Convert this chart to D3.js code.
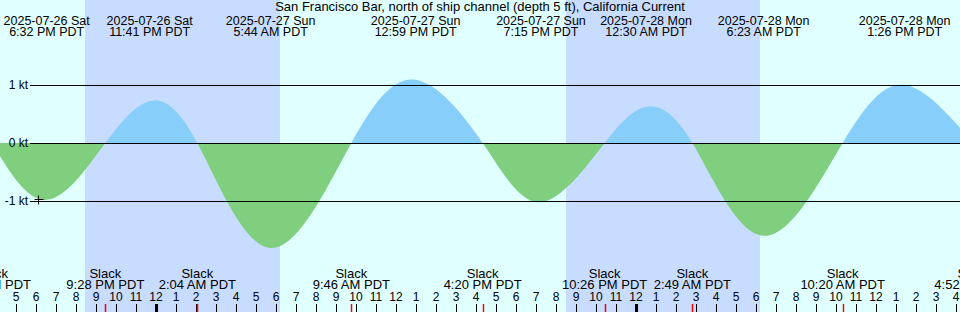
<!DOCTYPE html>
<html>
<head>
<meta charset="utf-8">
<script src="https://cdn.jsdelivr.net/npm/d3@7"></script>
<style>
  body { margin: 0; }
  svg { display: block; font-family: "Liberation Sans", Arial, sans-serif; font-size: 12px; }
  .title, .slack-label { font-size: 13px; }
  .max-label { font-size: 12.5px; }
</style>
</head>
<body>
<div id="chart"></div>
<script>
// values (local wall clock, PDT)
const title = "San Francisco Bar, north of ship channel (depth 5 ft), California Current";
const slackTimes = ["2025-07-26 15:48", "2025-07-26 21:28", "2025-07-27 02:04", "2025-07-27 09:46",
  "2025-07-27 16:20", "2025-07-27 22:26", "2025-07-28 02:49", "2025-07-28 10:20", "2025-07-28 16:52"];
const maxTimes = ["2025-07-26 18:32", "2025-07-26 23:41", "2025-07-27 05:44", "2025-07-27 12:59",
  "2025-07-27 19:15", "2025-07-28 00:30", "2025-07-28 06:23", "2025-07-28 13:26"];
const maxValues = [-0.98, 0.72, -1.81, 1.09, -1.02, 0.62, -1.60, 1.00];
const nightStarts = ["2025-07-26 20:27", "2025-07-27 20:30"];
const nightEnds = ["2025-07-27 06:12", "2025-07-28 06:12"];
const levelTicks = [-1, 0, 1];
const markTime = "2025-07-26 18:06";
const markValue = -0.97;

const parse = d3.utcParse("%Y-%m-%d %H:%M");
const fmtDate = d3.utcFormat("%Y-%m-%d %a");
const fmtTime = d => d3.utcFormat("%-I:%M %p")(d) + " PDT";

class CurrentChart {

  constructor(element) {
    this.element = element;
    this.width = 960;
    this.height = 312;

    this.slack = slackTimes.map(parse);
    this.maxes = maxTimes.map((t, i) => ({t: parse(t), v: maxValues[i]}));
    this.points = this.slack.map(t => ({t, v: 0}))
      .concat(this.maxes)
      .sort((a, b) => a.t - b.t);

    this.draw();
  }

  draw() {
    this.svg = d3.select(this.element)
      .append("svg")
      .attr("width", this.width)
      .attr("height", this.height);

    this._createScales();
    this._drawBackground();
    this._drawCurve();
    this._drawLevels();
    this._drawLabels();
    this._drawHours();
  }

  _createScales() {
    this.x = d3.scaleUtc()
      .domain([parse("2025-07-26 16:12"), parse("2025-07-28 16:12")])
      .range([0, this.width]);

    this.y = d3.scaleLinear()
      .domain([-1, 1])
      .range([201, 85]);
  }

  _drawBackground() {
    this.svg.append("rect")
      .attr("width", this.width)
      .attr("height", this.height)
      .attr("fill", "#e0ffff");

    this.svg.append("g")
      .selectAll("rect")
      .data(nightStarts)
      .join("rect")
        .attr("x", (d) => this.x(parse(d)))
        .attr("width", (d, i) => this.x(parse(nightEnds[i])) - this.x(parse(d)))
        .attr("y", 0)
        .attr("height", this.height)
        .attr("fill", "#c8dcff");
  }

  _drawCurve() {
    const y0 = this.y(0);
    const area = d3.area()
      .x(d => this.x(d.t))
      .y0(y0)
      .y1(d => this.y(d.v))
      .curve(d3.curveNatural);

    const defs = this.svg.append("defs");
    defs.append("clipPath").attr("id", "above")
      .append("rect").attr("x", 0).attr("y", 0).attr("width", this.width).attr("height", y0);
    defs.append("clipPath").attr("id", "below")
      .append("rect").attr("x", 0).attr("y", y0).attr("width", this.width).attr("height", this.height - y0);

    this.svg.append("path")
      .datum(this.points)
      .attr("d", area)
      .attr("fill", "#87cefa")
      .attr("clip-path", "url(#above)");

    this.svg.append("path")
      .datum(this.points)
      .attr("d", area)
      .attr("fill", "#7fcf7f")
      .attr("clip-path", "url(#below)");
  }

  _drawLevels() {
    const g = this.svg.append("g");

    g.selectAll("line")
      .data(levelTicks)
      .join("line")
        .attr("x1", 30)
        .attr("x2", this.width)
        .attr("y1", d => Math.round(this.y(d)) + 0.5)
        .attr("y2", d => Math.round(this.y(d)) + 0.5)
        .attr("stroke", "black");

    g.selectAll("text")
      .data(levelTicks)
      .join("text")
        .attr("x", 28)
        .attr("y", d => this.y(d) + 4)
        .attr("text-anchor", "end")
        .text(d => `${d} kt`);

    // small cross marker
    const mx = Math.round(this.x(parse(markTime))) + 0.5;
    const my = Math.round(this.y(markValue)) + 0.5;
    this.svg.append("path")
      .attr("d", `M${mx - 4},${my}H${mx + 5}M${mx},${my - 4}V${my + 5}`)
      .attr("stroke", "black");
  }

  _drawLabels() {
    this.svg.append("text")
      .attr("class", "title")
      .attr("x", this.width / 2)
      .attr("y", 11)
      .attr("text-anchor", "middle")
      .text(title);

    const top = this.svg.append("g")
      .attr("class", "max-label")
      .attr("text-anchor", "middle")
      .selectAll("text")
      .data(this.maxes)
      .join("text")
        .attr("x", d => this.x(d.t));
    top.append("tspan").attr("y", 25).text(d => fmtDate(d.t));
    top.append("tspan").attr("x", d => this.x(d.t)).attr("y", 36).text(d => fmtTime(d.t));

    const bottom = this.svg.append("g")
      .attr("class", "slack-label")
      .attr("text-anchor", "middle")
      .selectAll("text")
      .data(this.slack)
      .join("text")
        .attr("x", d => this.x(d));
    bottom.append("tspan").attr("y", 278).text("Slack");
    bottom.append("tspan").attr("x", d => this.x(d)).attr("y", 289).text(d => fmtTime(d));
  }

  _drawHours() {
    const [t0, t1] = this.x.domain();
    const hours = d3.utcHours(d3.utcHour.floor(t0), d3.utcHour.offset(t1, 1));
    const g = this.svg.append("g");

    g.selectAll("text")
      .data(hours)
      .join("text")
        .attr("x", d => this.x(d))
        .attr("y", 301)
        .attr("text-anchor", "middle")
        .text(d => d.getUTCHours() % 12 || 12);

    g.selectAll("line.hour")
      .data(hours)
      .join("line")
        .attr("class", "hour")
        .attr("x1", d => Math.round(this.x(d)) + 0.5)
        .attr("x2", d => Math.round(this.x(d)) + 0.5)
        .attr("y1", 304)
        .attr("y2", this.height)
        .attr("stroke", "black")
        .attr("stroke-width", d => d.getUTCHours() === 0 ? 3 : 1);

    g.selectAll("line.slack")
      .data(this.slack)
      .join("line")
        .attr("class", "slack")
        .attr("x1", d => Math.round(this.x(d)) + 0.5)
        .attr("x2", d => Math.round(this.x(d)) + 0.5)
        .attr("y1", 304)
        .attr("y2", this.height)
        .attr("stroke", "red")
        .attr("stroke-width", 1.5);
  }
}

new CurrentChart(document.getElementById("chart"));
</script>
</body>
</html>
